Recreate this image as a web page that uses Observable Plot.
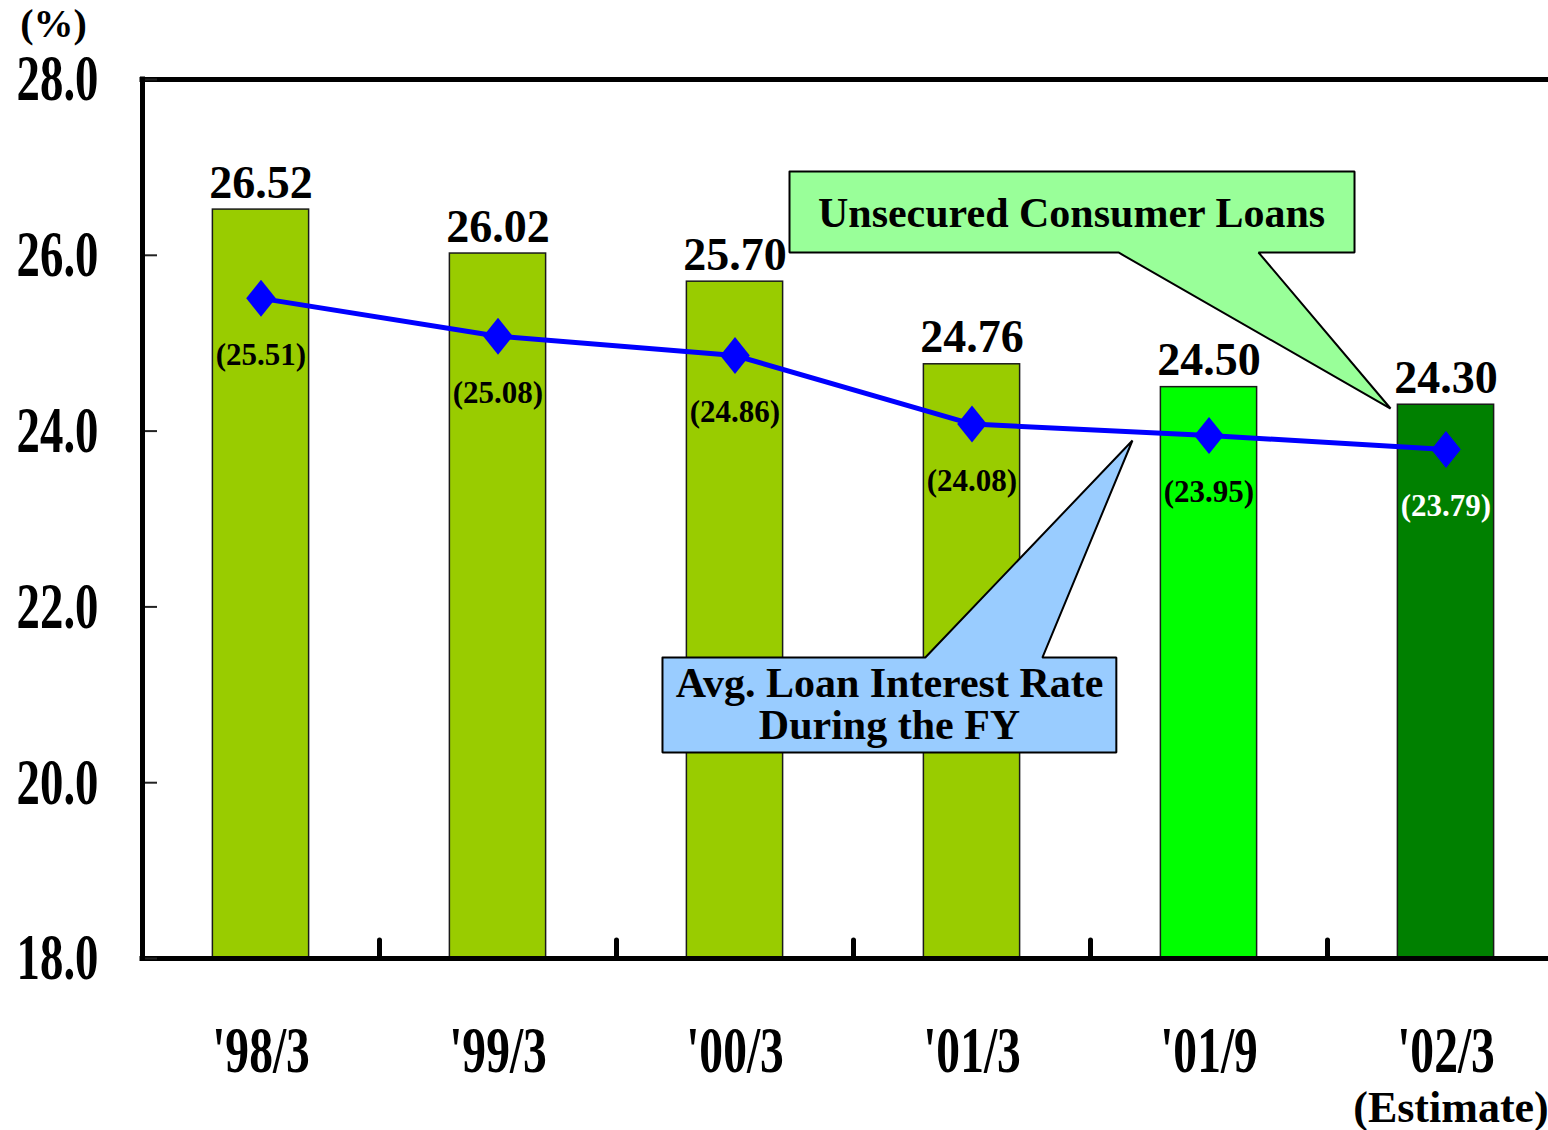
<!DOCTYPE html>
<html><head><meta charset="utf-8">
<script src="https://cdn.jsdelivr.net/npm/d3@7"></script>
<script src="https://cdn.jsdelivr.net/npm/@observablehq/plot@0.6"></script>
<style>
html,body{margin:0;padding:0;background:#fff;overflow:hidden;}
#chart svg{display:block;}
</style></head><body><div id="chart"></div>
<script>
// ---- data ----
const categories = ["'98/3", "'99/3", "'00/3", "'01/3", "'01/9", "'02/3"];
const categoryNotes = ["", "", "", "", "", "(Estimate)"];
const unsecuredLoans = [26.52, 26.02, 25.70, 24.76, 24.50, 24.30];
const avgLoanRate = [25.51, 25.08, 24.86, 24.08, 23.95, 23.79];
const yTicks = [18, 20, 22, 24, 26, 28];
const yUnit = "(%)";
const calloutLoansText = "Unsecured Consumer Loans";
const calloutRateText = "Avg. Loan Interest Rate\nDuring the FY";

// ---- styles ----
const barColors = ["#99CC00", "#99CC00", "#99CC00", "#99CC00", "#00FF00", "#008000"];
const rateLabelColors = ["#000", "#000", "#000", "#000", "#000", "#fff"];

// ---- annotation shapes (data units: x = category index, y = %) ----
const loansCallout = [
  {x: 2.230, y: 26.953}, {x: 4.614, y: 26.953}, {x: 4.614, y: 26.032},
  {x: 4.209, y: 26.032}, {x: 4.766, y: 24.257}, {x: 3.618, y: 26.032},
  {x: 2.230, y: 26.032}, {x: 2.230, y: 26.953}
];
const loansCalloutLabel = [{x: 3.420, y: 26.47, text: calloutLoansText}];
const rateCallout = [
  {x: 1.694, y: 21.424}, {x: 2.803, y: 21.424}, {x: 3.677, y: 23.893},
  {x: 3.297, y: 21.424}, {x: 3.609, y: 21.424}, {x: 3.609, y: 20.343},
  {x: 1.694, y: 20.343}, {x: 1.694, y: 21.424}
];
const rateCalloutLabel = [{x: 2.652, y: 20.89, text: calloutRateText}];

const rows = categories.map((c, i) => ({
  i, cat: c, note: categoryNotes[i], bar: unsecuredLoans[i], rate: avgLoanRate[i]
}));
const betweenTicks = categories.slice(1).map((_, i) => i + 0.5);

const diamond = {
  draw(ctx, size) {
    const r = Math.sqrt(size / Math.PI);
    const w = r * 0.8;
    ctx.moveTo(0, -r); ctx.lineTo(w, 0); ctx.lineTo(0, r); ctx.lineTo(-w, 0); ctx.closePath();
  }
};

const FONT = "'Liberation Serif', 'Times New Roman', serif";

const plot = Plot.plot({
  width: 1548,
  height: 1130,
  marginLeft: 142,
  marginRight: 0,
  marginTop: 79,
  marginBottom: 172,
  style: {fontFamily: FONT, fontWeight: "bold", background: "#fff", color: "#000"},
  x: {type: "linear", domain: [-0.5, categories.length - 0.5], range: [142, 1564]},
  y: {domain: [18, 28]},
  color: {type: "identity"},
  marks: [
    // bars
    Plot.rect(rows, {
      x1: d => d.i - 0.203, x2: d => d.i + 0.203, y1: 18, y2: "bar",
      fill: d => barColors[d.i], stroke: "#1a1a1a", strokeWidth: 1.5
    }),
    // callouts
    Plot.line(loansCallout, {x: "x", y: "y", fill: "#99FF99", stroke: "#000", strokeWidth: 2, strokeLinejoin: "miter"}),
    Plot.line(rateCallout, {x: "x", y: "y", fill: "#99CCFF", stroke: "#000", strokeWidth: 2, strokeLinejoin: "miter"}),
    Plot.text(loansCalloutLabel, {x: "x", y: "y", text: "text", fontSize: 42, fill: "#000"}),
    Plot.text(rateCalloutLabel, {x: "x", y: "y", text: "text", fontSize: 42, lineHeight: 1.0, fill: "#000"}),
    // frame
    Plot.ruleY([18, 28], {stroke: "#000", strokeWidth: 5, strokeLinecap: "square"}),
    Plot.ruleX([-0.5], {stroke: "#000", strokeWidth: 5, strokeLinecap: "square"}),
    // inward y ticks
    Plot.axisY({ticks: yTicks, tickSize: 12, dx: 15, tickFormat: () => "", label: null, stroke: "#222", strokeWidth: 2}),
    // y tick labels
    Plot.axisY({ticks: yTicks, tickSize: 0, tickPadding: 44, tickFormat: d => d.toFixed(1), label: null, fontSize: 65, fill: "#000"}),
    // inward x ticks between categories
    Plot.axisX({ticks: betweenTicks, tickSize: 18, dy: -18, tickFormat: () => "", label: null, stroke: "#000", strokeWidth: 5, strokeLinecap: "round"}),
    // rate line
    Plot.line(rows, {x: "i", y: "rate", stroke: "#0000FF", strokeWidth: 5}),
    Plot.dot(rows, {x: "i", y: "rate", symbol: diamond, r: 18.5, fill: "#0000FF", stroke: "none"}),
    // value labels
    Plot.text(rows, {x: "i", y: "bar", text: d => d.bar.toFixed(2), dy: -12, lineAnchor: "bottom", fontSize: 46, fill: "#000"}),
    Plot.text(rows, {x: "i", y: "rate", text: d => `(${d.rate.toFixed(2)})`, dy: 57, fontSize: 31, fill: d => rateLabelColors[d.i]}),
    // category labels
    Plot.text(rows, {x: "i", y: 18, text: "cat", dy: 92, fontSize: 66, fill: "#000"}),
    Plot.text(rows.filter(d => d.note), {x: "i", y: 18, text: "note", dx: 5, dy: 149, fontSize: 44, fill: "#000"}),
    // unit label
    Plot.text([yUnit], {frameAnchor: "top-left", text: d => d, dx: -89, dy: -55, textAnchor: "middle", lineAnchor: "middle", fontSize: 40, fill: "#000"})
  ]
});

function squeeze(nodes, k) {
  nodes.forEach(function(node) {
    const t = node.getAttribute("transform");
    if (t) node.setAttribute("transform", t + ` scale(${k},1)`);
    else {
      const x = +node.getAttribute("x") || 0, y = +node.getAttribute("y") || 0;
      node.removeAttribute("x"); node.removeAttribute("y");
      node.setAttribute("transform", `translate(${x},${y}) scale(${k},1)`);
    }
  });
}
const allTexts = Array.from(plot.querySelectorAll("text"));
const yLabelStrings = yTicks.map(d => d.toFixed(1));
squeeze(allTexts.filter(n => yLabelStrings.includes(n.textContent)), 0.72);
squeeze(allTexts.filter(n => categories.includes(n.textContent)), 0.72);

document.getElementById("chart").appendChild(plot);
</script></body></html>
